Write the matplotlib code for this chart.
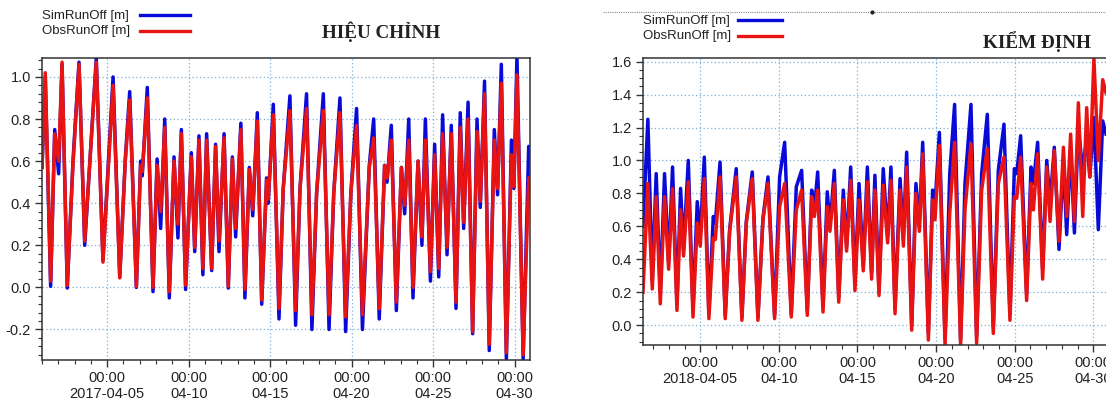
import datetime as dt
import matplotlib
matplotlib.use("Agg")
import matplotlib.pyplot as plt
import matplotlib.dates as mdates
from matplotlib.lines import Line2D
from matplotlib.ticker import MultipleLocator, FormatStrFormatter

plt.rcParams['font.family'] = ['Liberation Sans', 'DejaVu Sans']
plt.rcParams['axes.unicode_minus'] = False

# ---------------- data: calibration (2017) ----------------
cal_start = dt.datetime(2017, 4, 1)
cal_t = [0.0, 0.20, 0.53, 0.78, 1.02, 1.23, 1.55, 1.90, 2.27, 2.62,
         3.33, 3.74, 4.36, 4.77, 5.11, 5.38, 5.79, 6.05, 6.15, 6.46,
         6.81, 7.06, 7.28, 7.53, 7.81, 8.10, 8.34, 8.55, 8.81, 9.16,
         9.37, 9.63, 9.87, 10.10, 10.41, 10.65, 10.86, 11.17, 11.43, 11.68,
         11.88, 12.20, 12.45, 12.72, 12.93, 13.21, 13.48, 13.78, 13.88, 14.19,
         14.54, 14.80, 15.21, 15.56, 15.83, 16.23, 16.56, 16.85, 17.26, 17.61,
         17.90, 18.28, 18.63, 18.95, 19.30, 19.66, 20.08, 20.35, 20.69, 21.02,
         21.17, 21.43, 21.74, 22.05, 22.25, 22.50, 22.76, 23.07, 23.31, 23.52,
         23.83, 24.09, 24.34, 24.58, 24.85, 25.11, 25.40, 25.66, 25.87, 26.14,
         26.42, 26.69, 26.89, 27.15, 27.44, 27.75, 27.95, 28.18, 28.49, 28.80,
         28.95, 29.14, 29.52, 29.86, 29.96]
cal_obs = [0.57, 1.02, 0.03, 0.73, 0.60, 1.07, 0.01, 0.58, 1.06, 0.22,
           1.07, 0.12, 0.96, 0.045, 0.60, 0.89, 0.005, 0.58, 0.55, 0.90,
           0.0, 0.58, 0.36, 0.76, -0.02, 0.60, 0.30, 0.73, 0.01, 0.62,
           0.19, 0.70, 0.09, 0.70, 0.09, 0.67, 0.22, 0.71, 0.005, 0.61,
           0.28, 0.75, -0.01, 0.56, 0.37, 0.79, -0.06, 0.51, 0.42, 0.82,
           -0.10, 0.47, 0.84, -0.11, 0.47, 0.85, -0.13, 0.45, 0.84, -0.13,
           0.45, 0.83, -0.14, 0.45, 0.77, -0.13, 0.57, 0.71, -0.10, 0.58,
           0.52, 0.70, -0.07, 0.57, 0.39, 0.70, 0.0, 0.60, 0.24, 0.70,
           0.075, 0.63, 0.09, 0.73, 0.19, 0.73, -0.07, 0.76, 0.31, 0.80,
           -0.21, 0.74, 0.41, 0.92, -0.27, 0.70, 0.47, 0.97, -0.31, 0.63,
           0.48, 1.01, -0.32, 0.52, 0.52]
cal_sim = [0.57, 1.00, 0.005, 0.75, 0.54, 1.06, -0.003, 0.60, 1.07, 0.20,
           1.09, 0.13, 1.00, 0.05, 0.61, 0.93, 0.0, 0.60, 0.53, 0.95,
           -0.02, 0.61, 0.28, 0.80, -0.05, 0.62, 0.235, 0.75, -0.01, 0.64,
           0.17, 0.72, 0.06, 0.73, 0.08, 0.68, 0.17, 0.73, -0.003, 0.62,
           0.24, 0.78, -0.05, 0.57, 0.34, 0.83, -0.08, 0.52, 0.40, 0.87,
           -0.15, 0.47, 0.91, -0.18, 0.47, 0.92, -0.20, 0.45, 0.92, -0.20,
           0.45, 0.90, -0.21, 0.45, 0.85, -0.20, 0.58, 0.80, -0.15, 0.58,
           0.50, 0.77, -0.11, 0.57, 0.35, 0.80, -0.05, 0.60, 0.20, 0.80,
           0.03, 0.68, 0.05, 0.82, 0.155, 0.77, -0.10, 0.83, 0.28, 0.88,
           -0.22, 0.80, 0.38, 0.98, -0.30, 0.75, 0.44, 1.06, -0.34, 0.70,
           0.47, 1.10, -0.34, 0.67, 0.61]
cal_ticks = [4, 9, 14, 19, 24, 29]
cal_ticklabels = ['00:00\n2017-04-05', '00:00\n04-10', '00:00\n04-15',
                  '00:00\n04-20', '00:00\n04-25', '00:00\n04-30']

# ---------------- data: validation (2018) ----------------
val_start = dt.datetime(2018, 4, 1)
val_t = [0.36, 0.67, 0.95, 1.20, 1.46, 1.73, 1.99, 2.24, 2.52, 2.75,
         2.94, 3.24, 3.54, 3.81, 4.00, 4.26, 4.55, 4.83, 4.96, 5.26,
         5.59, 5.87, 6.29, 6.65, 6.93, 7.31, 7.67, 7.99, 8.31, 8.73,
         9.05, 9.37, 9.79, 10.11, 10.45, 10.81, 11.09, 11.26, 11.47, 11.81,
         12.08, 12.25, 12.53, 12.81, 13.10, 13.31, 13.57, 13.84, 14.10, 14.37,
         14.63, 14.90, 15.11, 15.37, 15.64, 15.92, 16.13, 16.39, 16.71, 16.92,
         17.13, 17.45, 17.72, 17.94, 18.15, 18.51, 18.78, 18.93, 19.21, 19.57,
         19.87, 20.18, 20.56, 20.84, 21.22, 21.58, 21.90, 22.26, 22.64, 22.96,
         23.32, 23.70, 23.98, 24.13, 24.38, 24.76, 25.04, 25.19, 25.46, 25.78,
         26.04, 26.25, 26.52, 26.82, 27.10, 27.31, 27.56, 27.80, 28.05, 28.33,
         28.58, 28.78, 29.04, 29.32, 29.60, 29.81]
val_obs = [0.20, 0.86, 0.22, 0.78, 0.13, 0.78, 0.34, 0.83, 0.09, 0.70,
           0.42, 0.87, 0.05, 0.62, 0.48, 0.89, 0.04, 0.53, 0.52, 0.90,
           0.04, 0.57, 0.90, 0.03, 0.62, 0.89, 0.03, 0.64, 0.86, 0.04,
           0.72, 0.86, 0.05, 0.70, 0.82, 0.06, 0.78, 0.66, 0.82, 0.08,
           0.72, 0.57, 0.86, 0.14, 0.76, 0.45, 0.88, 0.21, 0.76, 0.33,
           0.87, 0.28, 0.82, 0.18, 0.85, 0.50, 0.88, 0.07, 0.82, 0.48,
           0.96, -0.03, 0.80, 0.57, 1.04, -0.09, 0.76, 0.64, 1.09, -0.12,
           0.68, 1.11, -0.12, 0.70, 1.10, -0.11, 0.82, 1.07, -0.05, 0.86,
           1.02, 0.03, 0.78, 0.77, 1.02, 0.15, 0.86, 0.70, 1.04, 0.28,
           0.96, 0.63, 1.06, 0.51, 1.08, 0.66, 1.16, 0.63, 1.35, 0.66,
           1.32, 0.90, 1.62, 1.00, 1.49, 1.41]
val_sim = [0.60, 1.25, 0.27, 0.92, 0.19, 0.92, 0.38, 0.96, 0.13, 0.83,
           0.46, 1.00, 0.09, 0.75, 0.54, 1.02, 0.07, 0.66, 0.62, 0.99,
           0.06, 0.58, 0.95, 0.05, 0.63, 0.93, 0.05, 0.65, 0.90, 0.06,
           0.90, 1.11, 0.07, 0.84, 0.94, 0.09, 0.82, 0.70, 0.93, 0.11,
           0.81, 0.60, 0.94, 0.17, 0.82, 0.48, 0.96, 0.25, 0.86, 0.36,
           0.96, 0.32, 0.91, 0.21, 0.95, 0.54, 0.96, 0.10, 0.89, 0.53,
           1.05, 0.00, 0.86, 0.62, 1.11, -0.05, 0.82, 0.72, 1.17, -0.08,
           0.92, 1.34, -0.09, 0.86, 1.34, -0.07, 0.92, 1.28, -0.01, 0.94,
           1.22, 0.07, 0.95, 0.92, 1.15, 0.19, 0.96, 0.86, 1.11, 0.34,
           1.00, 0.74, 1.08, 0.46, 1.00, 0.55, 1.08, 0.56, 1.20, 0.94,
           1.14, 0.90, 1.26, 0.58, 1.24, 1.16]
val_ticks = [4, 9, 14, 19, 24, 29]
val_ticklabels = ['00:00\n2018-04-05', '00:00\n04-10', '00:00\n04-15',
                  '00:00\n04-20', '00:00\n04-25', '00:00\n04-30']

assert len(cal_t) == len(cal_obs) == len(cal_sim)
assert len(val_t) == len(val_obs) == len(val_sim)

SIM_C = '#0a0ad8'
OBS_C = '#e81414'
W, H = 1106, 405
LW = 2.5


def days(base, offs):
    return [base + dt.timedelta(days=o) for o in offs]


def style(ax, base, xlim, ylim, ticks, labels, yminor):
    ax.set_xlim(days(base, xlim))
    ax.set_ylim(*ylim)
    ax.set_xticks(days(base, ticks))
    ax.set_xticklabels(labels)
    ax.xaxis.set_minor_locator(mdates.DayLocator())
    ax.yaxis.set_major_locator(MultipleLocator(0.2))
    ax.yaxis.set_minor_locator(MultipleLocator(yminor))
    ax.yaxis.set_major_formatter(FormatStrFormatter('%.1f'))
    ax.tick_params(which='major', direction='out', length=5, width=1,
                   color='#333333', labelsize=10.5, labelcolor='#222222', pad=3)
    ax.tick_params(which='minor', direction='out', length=3, width=0.8,
                   color='#333333')
    ax.grid(True, which='major', linestyle=(0, (1, 2)), color='#7fb0d6', lw=0.9)
    for s in ax.spines.values():
        s.set_color('#333333')
        s.set_linewidth(1.1)


fig = plt.figure(figsize=(W / 100, H / 100), dpi=100)

# left panel
ax1 = fig.add_axes([42 / W, 45 / H, 488 / W, 302 / H])
ax1.plot(days(cal_start, cal_t), cal_sim, color=SIM_C, lw=LW, solid_joinstyle='round')
ax1.plot(days(cal_start, cal_t), cal_obs, color=OBS_C, lw=LW, solid_joinstyle='round')
style(ax1, cal_start, [0.0, 29.94], (-0.345, 1.09), cal_ticks, cal_ticklabels, 0.04)

# right panel (extends past the figure edge)
ax2 = fig.add_axes([643 / W, 60 / H, 466 / W, 286.7 / H])
ax2.plot(days(val_start, val_t), val_sim, color=SIM_C, lw=LW, solid_joinstyle='round')
ax2.plot(days(val_start, val_t), val_obs, color=OBS_C, lw=LW, solid_joinstyle='round')
style(ax2, val_start, [0.36, 30.0], (-0.12, 1.62), val_ticks, val_ticklabels, 0.05)


def fx(x):
    return x / W


def fy(y):
    return 1 - y / H


# legends (label on the left, sample line on the right)
for (tx, lx0, lx1, y0, y1) in [(42, 140, 190, 16, 31), (643, 738, 782, 21, 36)]:
    fig.text(fx(tx), fy(y0), 'SimRunOff [m]', fontsize=9.5, color='#222222', va='center')
    fig.text(fx(tx), fy(y1), 'ObsRunOff [m]', fontsize=9.5, color='#222222', va='center')
    fig.add_artist(Line2D([fx(lx0), fx(lx1)], [fy(y0 - 1), fy(y0 - 1)], color=SIM_C, lw=2.4))
    fig.add_artist(Line2D([fx(lx0), fx(lx1)], [fy(y1), fy(y1)], color=OBS_C, lw=2.4))

# titles
fig.text(fx(381), fy(32), 'HIỆU CHỈNH', family=['Liberation Serif', 'DejaVu Serif'],
         fontweight='bold', fontsize=13.8, color='#222222', ha='center', va='center')
fig.text(fx(1037), fy(42), 'KIỂM ĐỊNH', family=['Liberation Serif', 'DejaVu Serif'],
         fontweight='bold', fontsize=13.8, color='#222222', ha='center', va='center')

# dotted border line at the top of the right screenshot
fig.add_artist(Line2D([fx(603), fx(1106)], [fy(12), fy(12)], color='#8a8a8a',
                      lw=0.8, linestyle=(0, (1, 1))))
fig.add_artist(Line2D([fx(872)], [fy(12)], color='#222222', marker='o', markersize=2,
                      linestyle='none'))

fig.savefig('out.png', dpi=100)
